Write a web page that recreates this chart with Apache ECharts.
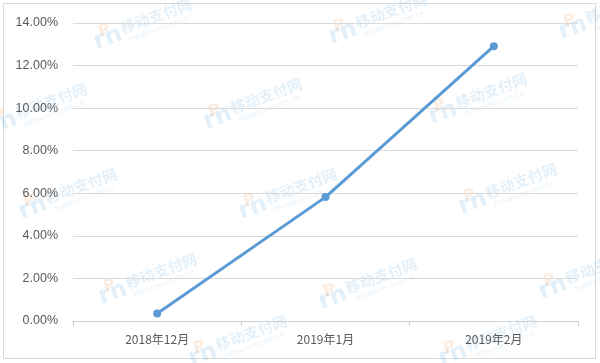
<!DOCTYPE html>
<html><head><meta charset="utf-8">
<script src="https://cdn.jsdelivr.net/npm/echarts@6/dist/echarts.min.js"></script>
<style>html,body{margin:0;padding:0;background:#fff}#c{width:600px;height:363px}</style>
</head><body><div id="c"></div>
<script>
var categories = ['2018年12月', '2019年1月', '2019年2月'];
var values = [0.0035, 0.0582, 0.1291];
var yTicks = [0, 0.02, 0.04, 0.06, 0.08, 0.10, 0.12, 0.14];

var wmPos = [[95,45],[330,40],[560,35],[-10,130],[205,125],[430,120],[20,215],[240,215],[460,210],[100,300],[320,305],[540,295],[440,362],[190,362]];
var graphics = [{type:'rect', shape:{x:3.5,y:3.5,width:592,height:355}, style:{fill:'none', stroke:'#d9d9d9', lineWidth:1}, z:0}];
wmPos.forEach(function(p){
  graphics.push({type:'group', x:p[0], y:p[1], rotation:Math.PI*20/180, z:0, silent:true, children:[
    {type:'text', x:0, y:-14, style:{text:'rn', font:'bold 24px "DejaVu Sans"', fill:'rgba(120,180,225,0.2)'}},
    {type:'text', x:8, y:-18, style:{text:'P', font:'bold 16px "DejaVu Sans"', fill:'rgba(245,160,100,0.2)'}},
    {type:'text', x:30, y:-14, style:{text:'移动支付网', font:'bold 15px "Noto Sans CJK SC"', fill:'rgba(120,180,225,0.2)'}},
    {type:'text', x:34, y:3, style:{text:'mpaypass.com.cn', font:'italic 7px "DejaVu Sans"', fill:'rgba(120,180,225,0.2)'}}
  ]});
});

var chart = echarts.init(document.getElementById('c'));
chart.setOption({
  animation:false,
  backgroundColor:'#fff',
  graphic: graphics,
  grid:{left:73, right:22, top:23, bottom:42},
  xAxis:{type:'category', data:categories, boundaryGap:true,
    axisLine:{lineStyle:{color:'#d0d0d0', width:1}},
    axisTick:{show:true, length:5, lineStyle:{color:'#d0d0d0'}},
    axisLabel:{color:'#595959', fontSize:12, margin:12, fontFamily:'"Noto Sans CJK SC", sans-serif'}},
  yAxis:{type:'value', min:0, max:0.14, interval:0.02,
    axisLine:{show:false}, axisTick:{show:false},
    splitLine:{lineStyle:{color:'#d9d9d9', width:1}},
    axisLabel:{color:'#595959', fontSize:12.5, margin:15, fontFamily:'"Liberation Sans", Arial, sans-serif',
      formatter:function(v){return (v*100).toFixed(2)+'%';}}},
  series:[{type:'line', data:values, symbol:'circle', symbolSize:8,
    lineStyle:{color:'#5b9bd5', width:3}, itemStyle:{color:'#5b9bd5'}, z:5}]
});
</script></body></html>
